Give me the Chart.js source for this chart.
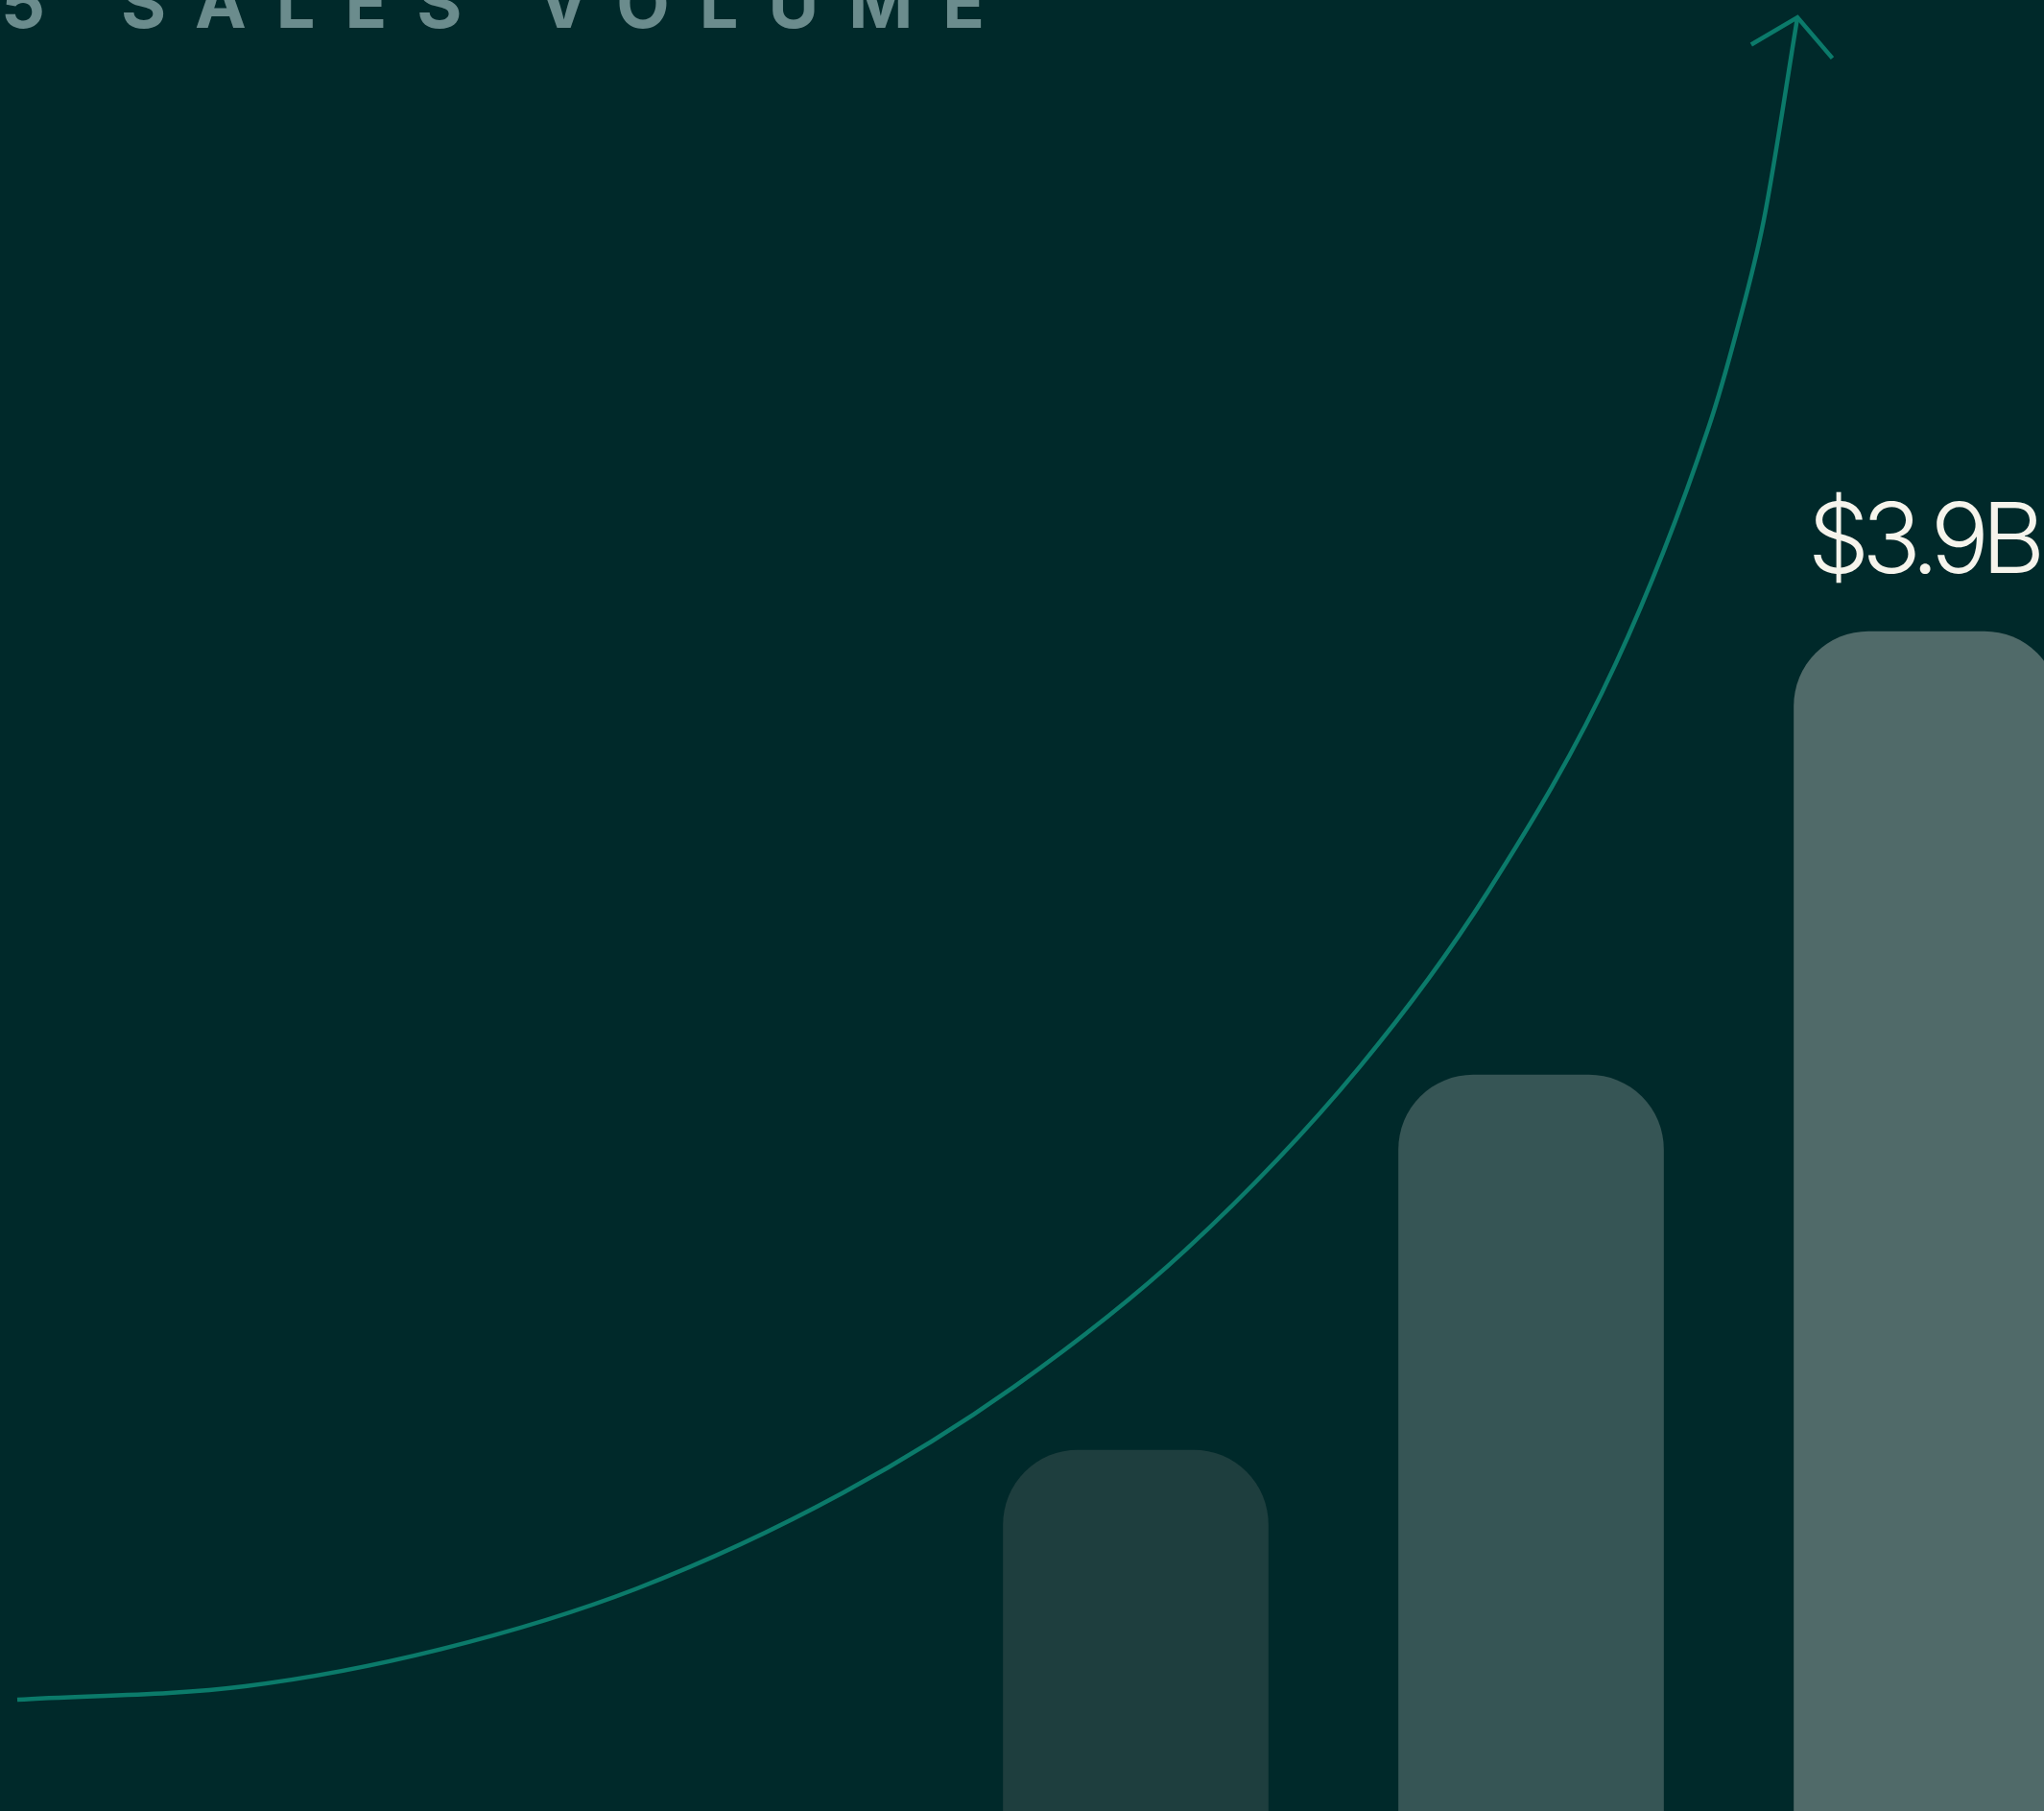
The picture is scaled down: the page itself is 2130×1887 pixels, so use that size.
<!DOCTYPE html>
<html>
<head>
<meta charset="utf-8">
<title>Sales volume</title>
<script src="https://cdn.jsdelivr.net/npm/chart.js@4.4.1/dist/chart.umd.min.js"></script>
<style>
  html, body { margin: 0; padding: 0; background: #00292a; overflow: hidden; }
  #wrap { position: relative; width: 2130px; height: 1887px; }
</style>
</head>
<body>
<div id="wrap"><canvas id="myChart"></canvas></div>
<script>
// sales volume per period, in billions of dollars
var periods = ['Year 1', 'Year 2', 'Year 3'];
var volume = [1.5, 2.6, 3.9];
var barColors = ['#1e3e3e', '#365555', '#506a69'];

// growth arrow (trend index 0-100 on both axes)
var trendX = [0, 12.8, 23.8, 34.8, 46.4, 56.0, 65.6, 75.4, 82.6, 89.8, 95.0, 96.6, 98.1, 100];
var trendY = [0, 0.8, 3.0, 6.6, 12.3, 18.6, 26.7, 37.6, 48.0, 61.6, 75.6, 81.4, 87.9, 100];

var title = '2025 SALES VOLUME';
var lineColor = '#0b7a6a';

// title drawn with wide tracking, partly cut off by the top edge
var slideTitle = {
    id: 'slideTitle',
    beforeDatasetsDraw: function (chart) {
        var ctx = chart.ctx;
        ctx.save();
        ctx.font = '700 72px Inter';
        ctx.letterSpacing = '31px';
        ctx.fillStyle = '#6b8c8d';
        ctx.textAlign = 'left';
        ctx.textBaseline = 'alphabetic';
        var prefix = title.slice(0, title.indexOf('SALES'));
        var x0 = 126 - ctx.measureText(prefix).width;
        ctx.fillText(title, x0, 29);
        ctx.restore();
    }
};

// value label above the last bar only
var valueLabel = {
    id: 'valueLabel',
    afterDatasetsDraw: function (chart) {
        var ctx = chart.ctx;
        var meta = chart.getDatasetMeta(0);
        var last = meta.data.length - 1;
        var bar = meta.data[last];
        ctx.save();
        ctx.font = '300 102px Inter';
        ctx.letterSpacing = '-8px';
        ctx.fillStyle = '#f6f4ec';
        ctx.textAlign = 'center';
        ctx.textBaseline = 'alphabetic';
        ctx.fillText('$' + volume[last].toFixed(1) + 'B', bar.x - 4, bar.y - 61);
        ctx.restore();
    }
};

// arrow head at the end of the trend line
var arrowHead = {
    id: 'arrowHead',
    afterDatasetsDraw: function (chart) {
        var pts = chart.getDatasetMeta(1).data;
        var tip = pts[pts.length - 1];
        var px = tip.cp1x, py = tip.cp1y;
        if (px === undefined || (px === tip.x && py === tip.y)) {
            px = pts[pts.length - 2].x;
            py = pts[pts.length - 2].y;
        }
        var back = Math.atan2(py - tip.y, px - tip.x);
        var len = 56, spread = 50 * Math.PI / 180;
        var ctx = chart.ctx;
        ctx.save();
        ctx.strokeStyle = lineColor;
        ctx.lineWidth = 4.5;
        ctx.beginPath();
        ctx.moveTo(tip.x + len * Math.cos(back + spread), tip.y + len * Math.sin(back + spread));
        ctx.lineTo(tip.x, tip.y);
        ctx.lineTo(tip.x + len * Math.cos(back - spread), tip.y + len * Math.sin(back - spread));
        ctx.stroke();
        ctx.restore();
    }
};

var ctx = document.getElementById('myChart').getContext('2d');
var myChart = new Chart(ctx, {
    type: 'bar',
    data: {
        datasets: [{
            label: 'Sales volume',
            data: volume.map(function (v, i) { return { x: i, y: v }; }),
            backgroundColor: barColors,
            borderRadius: 78,
            borderSkipped: 'start',
            barThickness: 276,
            grouped: false
        }, {
            type: 'line',
            label: 'Trend',
            data: trendX.map(function (x, i) { return { x: x, y: trendY[i] }; }),
            xAxisID: 'xt',
            yAxisID: 'yt',
            borderColor: lineColor,
            borderWidth: 4.5,
            pointRadius: 0,
            cubicInterpolationMode: 'monotone',
            fill: false
        }]
    },
    options: {
        responsive: true,
        maintainAspectRatio: false,
        animation: false,
        layout: { padding: 0 },
        plugins: {
            legend: { display: false },
            tooltip: { enabled: false }
        },
        scales: {
            x: { type: 'linear', display: false, offset: false, grid: { offset: false }, min: -2.8726, max: 2.2973 },
            y: { display: false, min: 0.442, max: 5.7514 },
            xt: { type: 'linear', display: false, offset: false, grid: { offset: false }, min: -0.97, max: 113.85 },
            yt: { type: 'linear', display: false, min: -6.62, max: 101.03 }
        }
    },
    plugins: [slideTitle, valueLabel, arrowHead]
});
</script>
</body>
</html>
